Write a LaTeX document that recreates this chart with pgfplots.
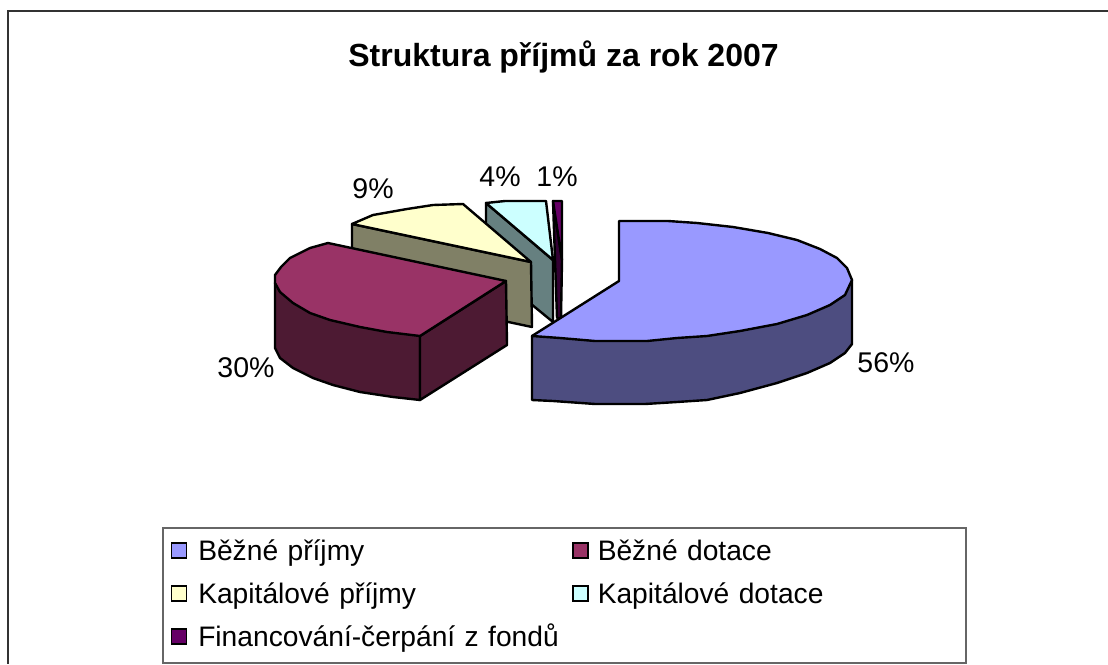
\documentclass[border=0pt]{standalone}
\usepackage{pgfplots}
\usepackage{fontspec}
\setmainfont{Liberation Sans}
\pgfplotsset{compat=1.18}
\definecolor{c1}{HTML}{9999FF}\definecolor{c1s}{HTML}{4D4D80}
\definecolor{c2}{HTML}{993366}\definecolor{c2s}{HTML}{4D1A33}
\definecolor{c3}{HTML}{FFFFCC}\definecolor{c3s}{HTML}{808066}
\definecolor{c4}{HTML}{CCFFFF}\definecolor{c4s}{HTML}{668080}
\definecolor{c5}{HTML}{660066}\definecolor{c5s}{HTML}{330033}
\pgfplotsset{
  slice/.style={draw=black,line width=2.4pt,line join=round,forget plot,fill=#1},
  square/.style={legend image code/.code={
    \draw[draw=black,line width=1.5pt,fill=#1] (0pt,-5.5pt) rectangle (15pt,9.5pt);}},
}
\begin{document}
\begin{tikzpicture}
\begin{axis}[
  scale only axis,width=1108pt,height=664pt,
  xmin=0,xmax=1108,ymin=0,ymax=664,y dir=reverse,
  hide axis,clip=false,
  legend columns=2,
  legend cell align=left,
  legend style={at={(axis cs:162,527)},anchor=north west,draw=black!60,line width=1.5pt,
    font=\fontsize{28.2}{32}\selectfont,inner xsep=8pt,inner ysep=9pt,
    nodes={text height=24pt,text depth=7pt,inner sep=0pt},
    /tikz/column 1/.style={column sep=11pt},
    /tikz/column 2/.style={nodes={text width=364pt},column sep=10pt},
    /tikz/column 3/.style={column sep=9pt},
    /tikz/column 4/.style={nodes={text width=360pt}},
    row sep=12pt},
]
% page and outer frame
\addplot[draw=none,fill=white,forget plot] coordinates {(0,0) (1108,0) (1108,664) (0,664)} -- cycle;
\addplot[black!80,line width=2pt,line cap=rect,forget plot] coordinates {(8,663) (8,11) (1107,11)};

% purple sliver
\addplot[slice=c5s] coordinates {(553,201) (562,260) (561,318) (557,318)} -- cycle;
\addplot[slice=c5] coordinates {(553,201) (562,201) (562,260)} -- cycle;

% cyan slice
\addplot[slice=c4s] coordinates {(486,203) (553,260) (553,322) (486,267)} -- cycle;
\addplot[slice=c4] coordinates {(486,203) (505,201) (546,201) (553,260)} -- cycle;

% yellow slice
\addplot[slice=c3s] coordinates {(352,224) (531,262) (532,327) (352,289)} -- cycle;
\addplot[slice=c3] coordinates {(352,224) (373,215) (407,209) (433,205) (463,204) (531,262)} -- cycle;

% red slice
\addplot[slice=c2s] coordinates {(275,283) (275,348) (280,358) (293,368) (313,378) (333,385) (360,392) (393,397) (420,400) (420,336)} -- cycle;
\addplot[slice=c2s] coordinates {(420,336) (506,281) (507,345) (420,400)} -- cycle;
\addplot[slice=c2] coordinates {(328,243) (310,248) (290,258) (281,267) (275,275) (275,283) (280,292) (293,303) (310,313) (330,320) (360,327) (387,332) (420,336) (506,281)} -- cycle;

% blue slice
\addplot[slice=c1s] coordinates {(532,336) (532,400) (553,401) (595,404) (645,404) (677,402) (707,400) (740,393) (777,383) (807,373) (830,363) (845,353) (852,344) (852,280)} -- cycle;
\addplot[slice=c1] coordinates {(619,221) (668,221) (697,223) (733,227) (768,233) (797,240) (820,249) (837,258) (847,268) (852,280) (845,295) (830,305) (807,315) (777,324) (740,331) (707,336) (677,338) (647,341) (595,341) (560,338) (532,336) (619,281)} -- cycle;

% legend entries
\addlegendimage{square=c1}\addlegendentry{Běžné příjmy}
\addlegendimage{square=c2}\addlegendentry{Běžné dotace}
\addlegendimage{square=c3}\addlegendentry{Kapitálové příjmy}
\addlegendimage{square=c4}\addlegendentry{Kapitálové dotace}
\addlegendimage{square=c5}\addlegendentry{Financování-čerpání z fondů}

\node[font=\fontsize{32}{36}\bfseries] at (axis cs:563.5,57) {Struktura příjmů za rok 2007};
\node[font=\fontsize{28.5}{32}\selectfont] at (axis cs:373,189) {9\%};
\node[font=\fontsize{28.5}{32}\selectfont] at (axis cs:500,177) {4\%};
\node[font=\fontsize{28.5}{32}\selectfont] at (axis cs:557,177) {1\%};
\node[font=\fontsize{28.5}{32}\selectfont] at (axis cs:886,363) {56\%};
\node[font=\fontsize{28.5}{32}\selectfont] at (axis cs:246,368) {30\%};
\end{axis}
\end{tikzpicture}
\end{document}
